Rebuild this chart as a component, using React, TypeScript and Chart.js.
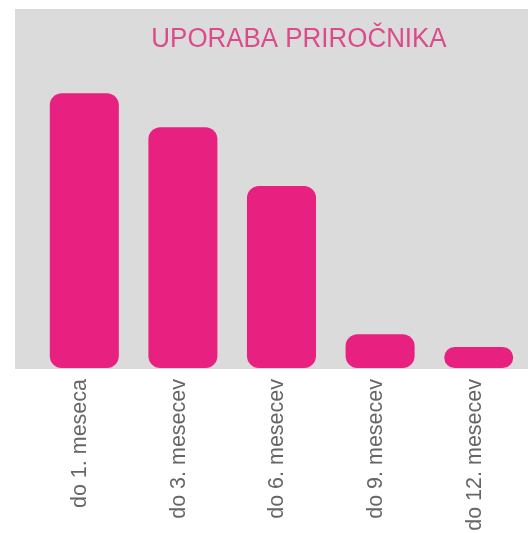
import React, { useEffect, useRef } from "react";
import { Chart, registerables } from "chart.js";

Chart.register(...registerables);

const titleText = "UPORABA PRIROČNIKA";
const categories = ["do 1. meseca", "do 3. mesecev", "do 6. mesecev", "do 9. mesecev", "do 12. mesecev"];
const values = [36.5, 32.0, 24.2, 4.5, 2.8];

const PINK = "#e8207f";

const panelPlugin = {
  id: "panel",
  beforeDraw(chart: any) {
    const ctx = chart.ctx;
    ctx.save();
    ctx.fillStyle = "#ffffff";
    ctx.fillRect(0, 0, chart.width, chart.height);
    ctx.fillStyle = "#dcdbdc";
    ctx.fillRect(15, 9, chart.width - 15, chart.chartArea.bottom + 1 - 9);
    ctx.fillStyle = "#dc4a8c";
    ctx.font = "27px 'Liberation Sans', Arial, sans-serif";
    ctx.textAlign = "center";
    ctx.textBaseline = "alphabetic";
    ctx.translate(299, 47);
    ctx.scale(0.96, 1);
    ctx.fillText(titleText, 0, 0);
    ctx.restore();
  },
};

export default function App() {
  const ref = useRef<HTMLCanvasElement | null>(null);
  useEffect(() => {
    if (!ref.current) return;
    const chart = new Chart(ref.current, {
      type: "bar",
      data: {
        labels: categories,
        datasets: [
          {
            data: values,
            backgroundColor: PINK,
            borderWidth: 0,
            borderRadius: 12,
            borderSkipped: false,
            barPercentage: 0.7,
            categoryPercentage: 1,
          },
        ],
      },
      options: {
        animation: false,
        responsive: false,
        maintainAspectRatio: false,
        layout: { padding: { left: 35, right: 0, top: 67, bottom: 0 } },
        plugins: { legend: { display: false }, title: { display: false }, tooltip: { enabled: false } },
        scales: {
          x: {
            grid: { display: false },
            border: { display: false },
            ticks: {
              color: "#666666",
              font: { family: "'Liberation Sans', Arial, sans-serif", size: 21.5 },
              minRotation: 90,
              maxRotation: 90,
              padding: 3,
              labelOffset: -4,
              autoSkip: false,
            },
            afterFit(scale: any) {
              scale.height = 165;
            },
          },
          y: { display: false, min: 0, max: 40 },
        },
      },
      plugins: [panelPlugin],
    });
    return () => chart.destroy();
  }, []);
  return (
    <div style={{ position: "fixed", left: 0, top: 0, width: 528, height: 533 }}>
      <canvas ref={ref} width={528} height={533} style={{ width: 528, height: 533, display: "block" }} />
    </div>
  );
}
